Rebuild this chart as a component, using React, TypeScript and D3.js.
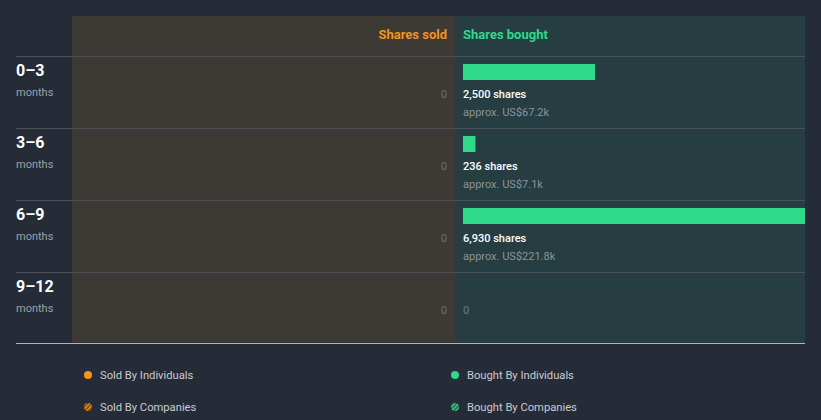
import React from "react";
import * as d3 from "d3";

const periods = ["0–3", "3–6", "6–9", "9–12"];
const soldShares = [0, 0, 0, 0];
const boughtShares = [2500, 236, 6930, 0];
const boughtValue = ["US$67.2k", "US$7.1k", "US$221.8k", ""];
const legendItems = [
  { label: "Sold By Individuals", color: "#F7931A", hatch: false },
  { label: "Bought By Individuals", color: "#2ED98A", hatch: false },
  { label: "Sold By Companies", color: "#F7931A", hatch: true },
  { label: "Bought By Companies", color: "#2ED98A", hatch: true },
];

const W = 821, H = 420;
const BG = "#262B38";
const SOLD_BG = "#3D3935";
const BOUGHT_BG = "#263E41";
const GREEN = "#2ED98A";
const ORANGE = "#F7931A";
const FONT = "Roboto, 'Open Sans', sans-serif";

export default function App() {
  const left = 16, panelL = 72, mid = 455, right = 805, top = 16, headerB = 56, bottom = 343;
  const y = d3.scaleBand<string>().domain(periods).range([headerB, headerB + 72 * 4]).paddingInner(0).paddingOuter(0);
  const x = d3.scaleLinear().domain([0, 2500]).range([0, 132]);
  const fmt = d3.format(",");
  return (
    <svg width={W} height={H} style={{ position: "absolute", left: 0, top: 0, background: BG, fontFamily: FONT }}>
      <defs>
        <clipPath id="bclip"><rect x={mid} y={top} width={right - mid} height={bottom - top} /></clipPath>
        <pattern id="hO" width="3" height="3" patternUnits="userSpaceOnUse" patternTransform="rotate(45)">
          <rect width="3" height="3" fill="#5a4020" />
          <rect width="1.5" height="3" fill={ORANGE} />
        </pattern>
        <pattern id="hG" width="3" height="3" patternUnits="userSpaceOnUse" patternTransform="rotate(45)">
          <rect width="3" height="3" fill="#1d5a45" />
          <rect width="1.5" height="3" fill={GREEN} />
        </pattern>
      </defs>
      <rect x={0} y={0} width={W} height={H} fill={BG} />
      <rect x={panelL} y={top} width={mid - panelL} height={bottom - top} fill={SOLD_BG} />
      <rect x={mid} y={top} width={right - mid} height={bottom - top} fill={BOUGHT_BG} />
      <text x={mid - 8} y={39} textAnchor="end" fill={ORANGE} fontSize={13} fontWeight={700}>Shares sold</text>
      <text x={mid + 8} y={39} fill={GREEN} fontSize={13} fontWeight={700}>Shares bought</text>
      {periods.map((p, i) => {
        const y0 = y(p)!;
        const bw = x(boughtShares[i]);
        return (
          <g key={p}>
            <line x1={left} x2={right} y1={y0 + 0.5} y2={y0 + 0.5} stroke="#4a4f58" strokeWidth={1} />
            <text x={left} y={y0 + 20} fill="#ffffff" fontSize={16} fontWeight={700}>{p}</text>
            <text x={left} y={y0 + 40} fill="#9aa0a8" fontSize={11}>months</text>
            <text x={mid - 8} y={y0 + 42} textAnchor="end" fill="#6e7074" fontSize={11}>{fmt(soldShares[i])}</text>
            {boughtShares[i] > 0 ? (
              <g>
                <rect x={mid + 8} y={y0 + 8} width={bw} height={16} fill={GREEN} clipPath="url(#bclip)" />
                <text x={mid + 8} y={y0 + 42} fill="#ffffff" fontSize={11} fontWeight={500}>{fmt(boughtShares[i])} shares</text>
                <text x={mid + 8} y={y0 + 60} fill="#8a9499" fontSize={11}>approx. {boughtValue[i]}</text>
              </g>
            ) : (
              <text x={mid + 8} y={y0 + 42} fill="#6e7a7c" fontSize={11}>0</text>
            )}
          </g>
        );
      })}
      <line x1={left} x2={right} y1={bottom + 0.5} y2={bottom + 0.5} stroke="#b0b4ba" strokeWidth={1} />
      {legendItems.map((it, i) => {
        const lx = i % 2 === 0 ? 88 : 455;
        const ly = i < 2 ? 375 : 407;
        return (
          <g key={it.label}>
            <circle cx={lx} cy={ly} r={4} fill={it.hatch ? (it.color === ORANGE ? "url(#hO)" : "url(#hG)") : it.color} />
            <text x={lx + 12} y={ly + 4} fill="#c8ccd2" fontSize={11.2}>{it.label}</text>
          </g>
        );
      })}
    </svg>
  );
}
